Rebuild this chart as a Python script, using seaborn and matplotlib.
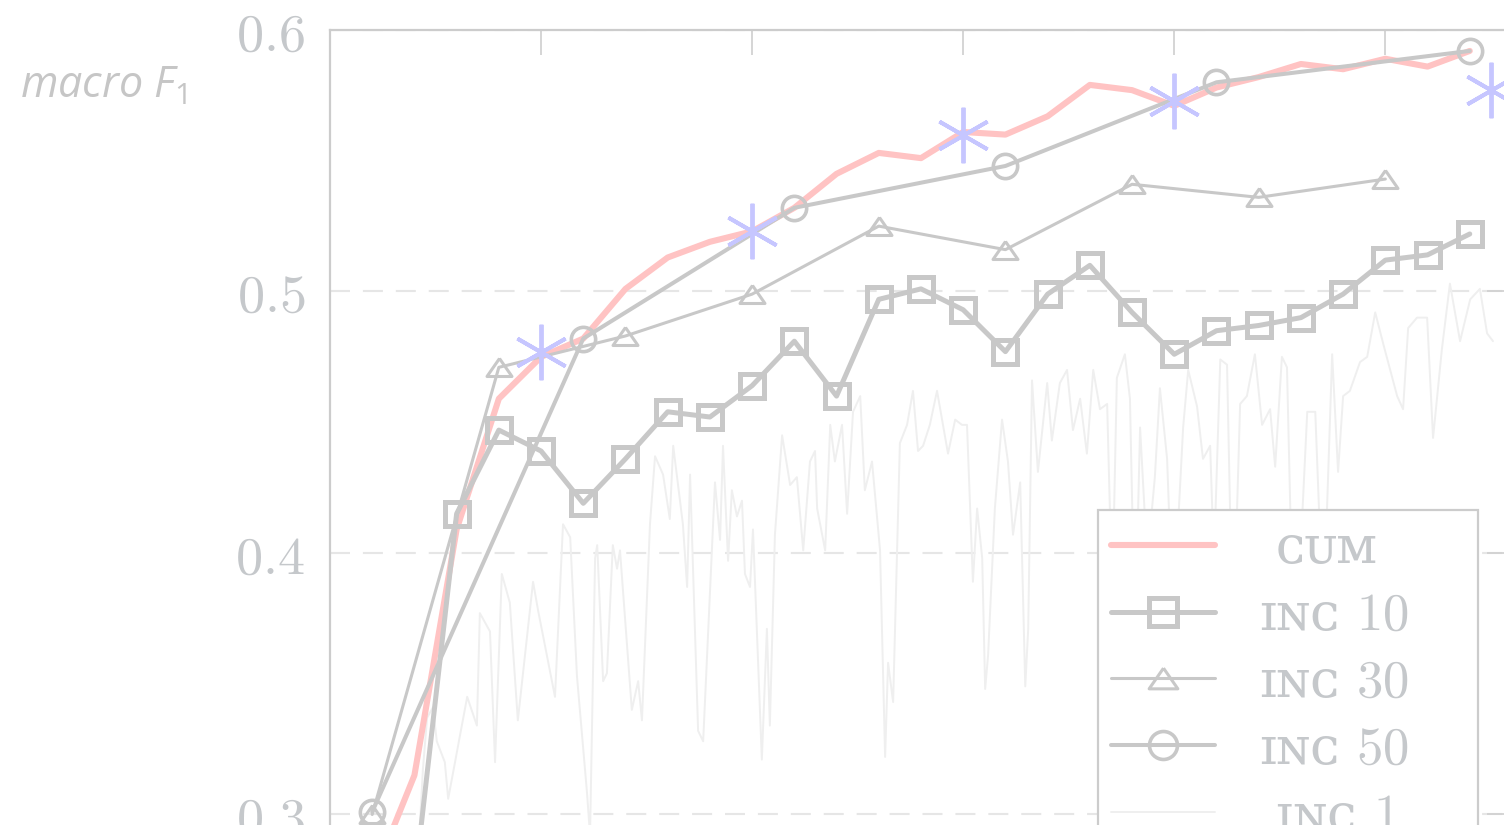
import matplotlib
matplotlib.use("Agg")
import matplotlib.pyplot as plt
import seaborn as sns
from matplotlib.ticker import FixedLocator, FuncFormatter

# ---- data: macro F1 per training chunk -------------------------------------
cum_x = [10, 20, 30, 40, 50, 60, 70, 80, 90, 100, 110, 120, 130, 140,
         150, 160, 170, 180, 190, 200, 210, 220, 230, 240, 250, 260, 270]
cum_f1 = [0.275, 0.315, 0.409, 0.459, 0.475, 0.482, 0.501, 0.513, 0.519,
          0.523, 0.532, 0.545, 0.553, 0.551, 0.561, 0.560, 0.567, 0.579,
          0.577, 0.571, 0.578, 0.582, 0.587, 0.585, 0.589, 0.586, 0.592]

inc10_x = [10, 20, 30, 40, 50, 60, 70, 80, 90, 100, 110, 120, 130, 140,
           150, 160, 170, 180, 190, 200, 210, 220, 230, 240, 250, 260, 270]
inc10_f1 = [0.220, 0.273, 0.415, 0.447, 0.439, 0.419, 0.436, 0.454, 0.452,
            0.464, 0.481, 0.460, 0.497, 0.501, 0.493, 0.477, 0.499, 0.510,
            0.492, 0.476, 0.485, 0.487, 0.490, 0.499, 0.512, 0.514, 0.522]

inc30_x = [10, 40, 70, 100, 130, 160, 190, 220, 250]
inc30_f1 = [0.300, 0.471, 0.483, 0.499, 0.525, 0.516, 0.541, 0.536, 0.543]

inc50_x = [10, 60, 110, 160, 210, 270]
inc50_f1 = [0.301, 0.482, 0.532, 0.548, 0.580, 0.592]

star_x = [50, 100, 150, 200, 275]
star_f1 = [0.477, 0.523, 0.560, 0.573, 0.577]

inc1_x = [20.0, 21.3, 22.0, 23.0, 24.4, 25.3, 27.2, 28.0, 32.5, 34.8,
          35.5, 37.9, 39.1, 40.7, 42.6, 44.5, 48.1, 49.3, 53.3, 55.2,
          56.9, 58.5, 60.9, 61.6, 62.8, 63.3, 64.7, 65.6, 67.0, 68.0,
          68.7, 71.5, 73.0, 73.9, 75.8, 77.0, 78.9, 80.5, 81.3, 83.6,
          84.6, 85.3, 87.2, 88.4, 91.2, 92.4, 93.1, 94.3, 95.2, 96.4,
          97.6, 98.3, 99.5, 100.2, 102.3, 103.5, 104.2, 105.4, 107.1, 109.0,
          110.6, 112.1, 113.7, 114.9, 115.4, 117.3, 118.5, 119.6, 121.3, 122.5,
          123.9, 125.6, 126.7, 128.4, 130.3, 131.5, 132.2, 133.4, 135.0, 136.7,
          138.1, 139.3, 140.5, 142.1, 143.8, 145.2, 146.4, 148.1, 149.7, 150.9,
          152.3, 153.3, 154.5, 155.2, 155.9, 157.5, 159.2, 160.6, 161.8, 163.5,
          164.7, 165.4, 166.3, 167.7, 169.9, 171.0, 172.9, 174.6, 176.0, 177.7,
          179.3, 180.8, 182.4, 184.1, 185.3, 186.4, 188.3, 189.5, 190.7, 191.9,
          193.6, 195.4, 196.6, 198.3, 199.7, 202.1, 203.3, 205.4, 206.8, 208.5,
          209.4, 210.9, 212.5, 213.9, 215.6, 217.2, 219.1, 220.8, 222.7, 223.9,
          225.5, 226.7, 228.1, 229.8, 231.5, 233.4, 235.3, 237.4, 238.8, 240.0,
          241.6, 244.0, 245.7, 247.6, 249.5, 252.8, 254.2, 255.4, 257.5, 259.9,
          261.3, 263.4, 265.3, 267.7, 270.1, 272.4, 274.1, 275.5]
inc1_f1 = [0.267, 0.296, 0.317, 0.337, 0.341, 0.328, 0.320, 0.306, 0.345, 0.334,
           0.377, 0.370, 0.320, 0.392, 0.381, 0.336, 0.389, 0.378, 0.345, 0.411,
           0.406, 0.353, 0.308, 0.292, 0.398, 0.403, 0.351, 0.354, 0.403, 0.394,
           0.401, 0.340, 0.351, 0.336, 0.411, 0.437, 0.430, 0.413, 0.441, 0.411,
           0.387, 0.430, 0.332, 0.328, 0.427, 0.405, 0.441, 0.397, 0.424, 0.414,
           0.420, 0.392, 0.387, 0.409, 0.321, 0.371, 0.334, 0.407, 0.445, 0.426,
           0.429, 0.401, 0.435, 0.439, 0.417, 0.401, 0.449, 0.435, 0.449, 0.415,
           0.454, 0.460, 0.424, 0.435, 0.401, 0.322, 0.358, 0.343, 0.442, 0.449,
           0.462, 0.439, 0.441, 0.449, 0.462, 0.449, 0.438, 0.451, 0.449, 0.449,
           0.389, 0.417, 0.398, 0.348, 0.361, 0.417, 0.451, 0.435, 0.407, 0.427,
           0.349, 0.371, 0.466, 0.431, 0.465, 0.443, 0.465, 0.470, 0.447, 0.459,
           0.438, 0.470, 0.455, 0.457, 0.382, 0.467, 0.476, 0.459, 0.367, 0.448,
           0.397, 0.429, 0.463, 0.436, 0.374, 0.448, 0.470, 0.456, 0.436, 0.441,
           0.397, 0.474, 0.472, 0.363, 0.457, 0.460, 0.476, 0.449, 0.455, 0.433,
           0.475, 0.471, 0.374, 0.397, 0.454, 0.454, 0.374, 0.476, 0.431, 0.460,
           0.462, 0.473, 0.475, 0.492, 0.480, 0.460, 0.455, 0.486, 0.490, 0.490,
           0.444, 0.478, 0.503, 0.481, 0.497, 0.501, 0.484, 0.481]

labels = [" ᴄᴜᴍ", "ɪɴᴄ $10$", "ɪɴᴄ $30$", "ɪɴᴄ $50$", " ɪɴᴄ $1$"]
y_ticks = [0.3, 0.4, 0.5, 0.6]
x_ticks = [0, 50, 100, 150, 200, 250]

# ---- style ------------------------------------------------------------------
sns.set_style("white")
plt.rcParams["mathtext.fontset"] = "cm"
plt.rcParams["mathtext.it"] = "Open Sans:italic"
plt.rcParams["mathtext.rm"] = "Open Sans"
plt.rcParams["font.family"] = ["DejaVu Serif", "DejaVu Sans"]

GRAY = "#c8c8c8"
PINK = "#ffc3c3"
BLUE = "#c6c6ff"
FAINT = "#efefef"
TEXT = "#c5c8cb"

fig = plt.figure(figsize=(15.04, 8.25), dpi=100)
ax = fig.add_axes([0.21941, -0.30424, 0.78590, 1.26788])

tri = [(0, 0.72), (-1, -0.72), (1, -0.72), (0, 0.72)]

sns.lineplot(x=inc1_x, y=inc1_f1, ax=ax, color=FAINT, lw=1.4,
             label=labels[4], zorder=1)
sns.lineplot(x=cum_x, y=cum_f1, ax=ax, color=PINK, lw=4.4,
             label=labels[0], zorder=2)
sns.lineplot(x=inc10_x, y=inc10_f1, ax=ax, color=GRAY, lw=3.6,
             marker="s", ms=17, mew=3.6, mfc="none", mec=GRAY,
             label=labels[1], zorder=3)
sns.lineplot(x=inc30_x, y=inc30_f1, ax=ax, color=GRAY, lw=2.2,
             marker=tri, ms=18, mew=2.2, mfc="none", mec=GRAY,
             label=labels[2], zorder=4)
sns.lineplot(x=inc50_x, y=inc50_f1, ax=ax, color=GRAY, lw=2.9,
             marker="o", ms=17.5, mew=2.6, mfc="none", mec=GRAY,
             label=labels[3], zorder=5)
sns.lineplot(x=star_x, y=star_f1, ax=ax, color=BLUE, linestyle="",
             marker=(6, 2, 0), ms=40, mew=2.8, mec=BLUE, zorder=6)

# ---- axes -------------------------------------------------------------------
ax.set_xlim(0, 280)
ax.set_ylim(0.2, 0.6)
ax.xaxis.set_major_locator(FixedLocator(x_ticks))
ax.yaxis.set_major_locator(FixedLocator(y_ticks))
ax.yaxis.set_major_formatter(FuncFormatter(lambda v, p: f"${v:.1f}$"))
ax.tick_params(axis="both", direction="in", length=18, width=1.3,
               color="#d2d2d2", top=True, right=True, labelbottom=False,
               labelsize=39, labelcolor=TEXT, pad=18)
ax.set_xlabel("")
ax.set_ylabel("")
ax.grid(False)
ax.yaxis.grid(True, linestyle=(0, (9.6, 6.2)), color="#e6e6e6", lw=1.5)
ax.set_axisbelow(True)
for s in ax.spines.values():
    s.set_color("#cccccc")
    s.set_linewidth(1.6)

fig.text(20 / 1504, 1 - 98 / 825, "macro $F_{\\mathit{1}}$", fontsize=31,
         family="Open Sans", style="italic", color="#c6c6c6",
         va="baseline", ha="left", math_fontfamily="custom")

# ---- legend -----------------------------------------------------------------
handles, labs = ax.get_legend_handles_labels()
order = [labs.index(l) for l in labels]
leg = ax.legend([handles[i] for i in order], [labs[i] for i in order],
                loc="upper left", bbox_to_anchor=(0.6497, 0.2411, 0.3215, 0.3),
                mode="expand", borderaxespad=0, frameon=True, fancybox=False,
                framealpha=1, edgecolor="#cccccc", facecolor="white",
                prop={"family": ["DejaVu Serif", "DejaVu Sans"], "size": 38},
                labelcolor=TEXT, handlelength=1.97, handletextpad=0.83,
                borderpad=0.25, labelspacing=0.3, markerscale=1.15)
leg.get_frame().set_linewidth(1.6)

fig.savefig("out.png", dpi=100)
